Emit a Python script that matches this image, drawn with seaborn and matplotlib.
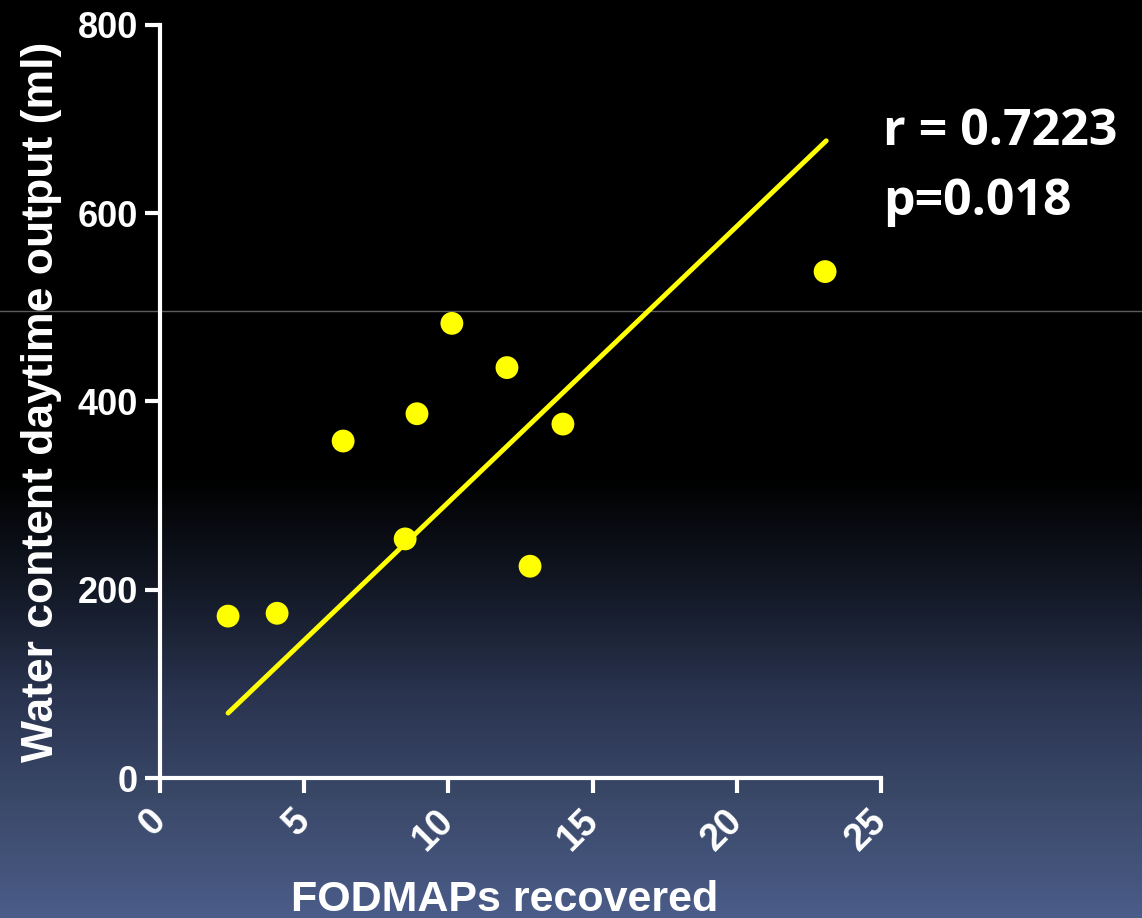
import numpy as np
import matplotlib.pyplot as plt
from matplotlib.colors import LinearSegmentedColormap
import seaborn as sns

# data
fodmaps = [2.36, 4.06, 6.35, 8.5, 8.91, 10.12, 12.03, 12.83, 13.97, 23.06]
water = [172, 175, 358, 254, 387, 483, 436, 225, 376, 538]
fit_x = [2.36, 23.1]
fit_y = [69, 677]
x_ticks = [0, 5, 10, 15, 20, 25]
y_ticks = [0, 200, 400, 600, 800]
stats_lines = ["r = 0.7223", "p=0.018"]

sns.set_theme(style="ticks")
plt.rcParams["font.family"] = ["Liberation Sans", "DejaVu Sans"]

fig = plt.figure(figsize=(11.42, 9.18), dpi=100)
fig.patch.set_facecolor("black")

# background gradient (black top, slate blue bottom) and thin grey rule
bg = fig.add_axes([0, 0, 1, 1], zorder=-1)
cmap = LinearSegmentedColormap.from_list(
    "bg",
    [(0.0, "#000000"), (0.52, "#000000"), (0.65, "#141a28"),
     (0.76, "#2a3450"), (0.87, "#3a4868"), (1.0, "#4a5c88")],
)
grad = np.linspace(0, 1, 918).reshape(-1, 1)
bg.imshow(grad, cmap=cmap, aspect="auto", extent=[0, 1, 0, 1], origin="upper")
bg.axhline(1 - 311 / 918, color="#5c5c5c", linewidth=1)
bg.set_xlim(0, 1)
bg.set_ylim(0, 1)
bg.axis("off")

ax = fig.add_axes([0.1401, 0.1525, 0.6314, 0.8203])
ax.set_facecolor("none")

sns.lineplot(x=fit_x, y=fit_y, ax=ax, color="#ffff00", linewidth=3.5)
sns.scatterplot(x=fodmaps, y=water, ax=ax, color="#ffff00", s=270,
                edgecolor="none", zorder=3, clip_on=False)

ax.set_xlim(0, 25)
ax.set_ylim(0, 800)
ax.set_xticks(x_ticks)
ax.set_yticks(y_ticks)
sns.despine(ax=ax)
for side in ["left", "bottom"]:
    ax.spines[side].set_color("white")
    ax.spines[side].set_linewidth(3)
ax.tick_params(colors="white", length=11, width=3, pad=5, labelsize=26)
ax.set_xticklabels([str(t) for t in x_ticks], rotation=45, ha="right",
                   va="center", rotation_mode="anchor", fontweight="bold",
                   fontsize=27)
ax.set_yticklabels([str(t) for t in y_ticks], fontweight="bold")
ax.tick_params(axis="x", pad=16)

ax.set_xlabel("FODMAPs recovered", fontsize=31, fontweight="bold",
              color="white", labelpad=16)
ax.xaxis.label.set_x(0.478)
ax.set_ylabel("Water content daytime output (ml)", fontsize=32,
              fontweight="bold", color="white", labelpad=11)

fig.text(0.773, 1 - 145 / 918, stats_lines[0], color="white", fontsize=36,
         fontweight="bold", family=["Open Sans", "DejaVu Sans"], va="baseline")
fig.text(0.773, 1 - 215 / 918, stats_lines[1], color="white", fontsize=36,
         fontweight="bold", family=["Open Sans", "DejaVu Sans"], va="baseline")

plt.savefig("out.png", dpi=100, facecolor=fig.get_facecolor())
